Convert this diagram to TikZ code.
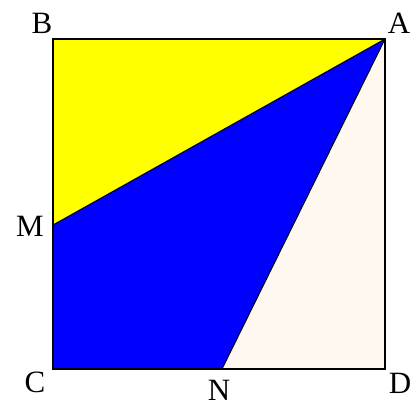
\documentclass[tikz,border=0pt]{standalone}
\usepackage{fontspec}
\setmainfont{Liberation Serif}
\definecolor{yel}{HTML}{FFFF00}
\definecolor{blu}{HTML}{0000FF}
\definecolor{crm}{HTML}{FFF8F0}
\begin{document}
\begin{tikzpicture}[x=1pt,y=-1pt,
  lbl/.style={font=\fontsize{31}{31}\selectfont, inner sep=0pt},
  edge/.style={draw=black, line width=1.6pt}]
\useasboundingbox (0,0) rectangle (419,408);
\coordinate (B) at (53,39);
\coordinate (A) at (385,39);
\coordinate (C) at (53,369);
\coordinate (D) at (385,369);
\coordinate (M) at (53,225);
\coordinate (N) at (222,369);
\fill[yel] (B) -- (A) -- (M) -- cycle;
\fill[blu] (M) -- (A) -- (N) -- (C) -- cycle;
\fill[crm] (A) -- (D) -- (N) -- cycle;
\draw[black, line width=1pt] (M) -- (A) -- (N);
\draw[edge] (B) -- (A) -- (D) -- (C) -- cycle;
\node[lbl] (lB) at (42,23) {B};
\node[lbl] (lA) at (399,23) {A};
\node[lbl] (lM) at (30,226) {M};
\node[lbl] (lC) at (35,382) {C};
\node[lbl] (lN) at (219,390) {N};
\node[lbl] (lD) at (400,383) {D};
\end{tikzpicture}
\end{document}
